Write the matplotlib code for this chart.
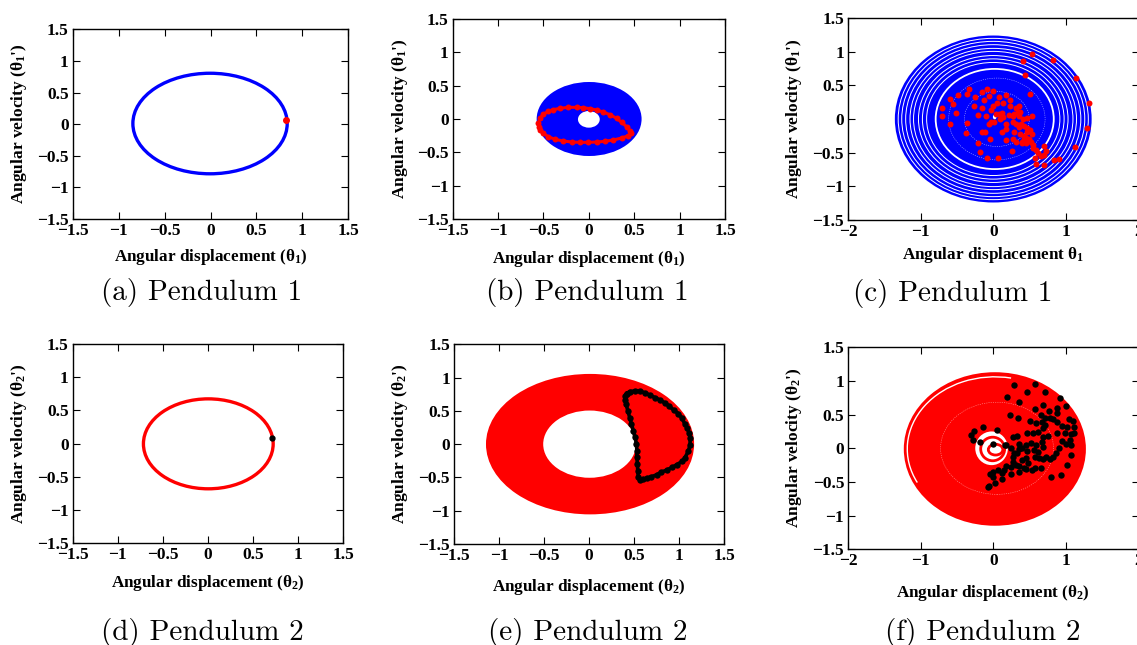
import numpy as np
import matplotlib
matplotlib.use('Agg')
import matplotlib.pyplot as plt
from matplotlib.patches import Ellipse, Arc

plt.rcParams['font.family'] = ['Liberation Serif', 'DejaVu Serif']
plt.rcParams['font.weight'] = 'bold'
plt.rcParams['mathtext.fontset'] = 'custom'
plt.rcParams['mathtext.rm'] = 'Liberation Serif:bold'
plt.rcParams['mathtext.bf'] = 'Liberation Serif:bold'
plt.rcParams['mathtext.it'] = 'Liberation Serif:bold'

# ---------------- data ----------------
tick15 = [-1.5, -1, -0.5, 0, 0.5, 1, 1.5]
tick15_labels = ['\u22121.5', '\u22121', '\u22120.5', '0', '0.5', '1', '1.5']
tick2 = [-2, -1, 0, 1, 2]
tick2_labels = ['\u22122', '\u22121', '0', '1', '2']

# (a) pendulum 1 orbit
a_center = [-0.005, 0.01]
a_semi = [0.84, 0.795]
a_point = [0.82, 0.07]

# (b) pendulum 1 ring + section
b_outer = [0.578, 0.555]
b_inner = [0.12, 0.125]
b_loop_x = [-0.557, -0.539, -0.502, -0.447, -0.392, -0.318, -0.226, -0.135, -0.061, 0.012,
            0.086, 0.159, 0.232, 0.306, 0.361, 0.416, 0.453, 0.46, 0.435, 0.361, 0.269,
            0.177, 0.086, -0.006, -0.098, -0.19, -0.281, -0.373, -0.447, -0.502, -0.539, -0.554]
b_loop_y = [-0.065, 0.01, 0.07, 0.115, 0.14, 0.16, 0.175, 0.175, 0.17, 0.155,
            0.135, 0.105, 0.065, 0.01, -0.05, -0.115, -0.18, -0.215, -0.25, -0.285, -0.315,
            -0.335, -0.345, -0.35, -0.35, -0.345, -0.33, -0.305, -0.265, -0.215, -0.165, -0.115]

# (c) pendulum 1 chaotic
c_outer = [1.355, 1.24]
c_gap_scales = [0.966, 0.93, 0.89, 0.846, 0.81, 0.76, 0.72, 0.677]
c_main_gap = 0.60
c_faint_scales = [0.49, 0.33]
c_pts_x = [0.54, 0.41, 0.82, 0.44, 1.14, 1.32, 1.29, 1.12, 0.90, 0.83, 0.70, 0.59,
           0.51, -0.33, -0.08, 0.0, -0.16, -0.49, -0.36, -0.06, -0.25, 0.08, 0.18,
           -0.59, -0.55, -0.71, -0.71, -0.51, -0.59, -0.13, 0.05, 0.14, 0.23, 0.23,
           -0.27, -0.15, -0.01, -0.03, 0.35, 0.32, 0.37, 0.36, -0.21, -0.10, 0.04,
           0.08, 0.12, 0.09, 0.14, 0.22, 0.27, 0.29, 0.34, 0.47, 0.53, 0.41, 0.27,
           0.31, 0.38, 0.35, 0.42, 0.46, -0.06, -0.03, 0.01, 0.18, -0.36, -0.37,
           -0.16, -0.12, 0.12, 0.18, 0.28, 0.37, 0.43, 0.47, 0.51, 0.53, 0.43, 0.49,
           0.27, 0.31, 0.17, -0.04, -0.21, 0.39, 0.45, 0.52, 0.55, 0.55, 0.59, 0.70,
           0.73, 0.70, 0.61, 0.66, 0.57, -0.18, -0.08, 0.07, 0.26, 0.45, 0.40]
c_pts_y = [0.96, 0.86, 0.88, 0.66, 0.61, 0.24, -0.13, -0.42, -0.59, -0.61, -0.69, -0.67,
           0.37, 0.44, 0.45, 0.42, 0.40, 0.36, 0.37, 0.34, 0.32, 0.33, 0.35,
           0.30, 0.23, 0.17, 0.04, 0.09, -0.08, 0.28, 0.24, 0.24, 0.28, 0.19,
           0.20, 0.17, 0.19, 0.13, 0.20, 0.16, 0.11, 0.04, 0.06, 0.05, 0.08,
           0.07, 0.09, 0.0, 0.03, 0.06, 0.04, 0.07, 0.11, 0.01, 0.04, -0.005, -0.05,
           -0.08, -0.07, -0.12, -0.11, -0.14, -0.07, -0.04, -0.05, -0.08, -0.06, -0.21,
           -0.20, -0.20, -0.20, -0.15, -0.20, -0.23, -0.25, -0.20, -0.17, -0.23, -0.30, -0.30,
           -0.29, -0.34, -0.31, -0.30, -0.36, -0.36, -0.35, -0.34, -0.39, -0.43, -0.46, -0.40,
           -0.47, -0.53, -0.51, -0.55, -0.58, -0.49, -0.58, -0.58, -0.48, -0.28, -0.34]

# (d) pendulum 2 orbit
d_center = [0.005, -0.005]
d_semi = [0.72, 0.678]
d_point = [0.707, 0.088]

# (e) pendulum 2 ring + section
e_center = [0.01, 0.0]
e_outer = [1.155, 1.055]
e_inner = [0.515, 0.505]
e_loop_x = [0.415, 0.45, 0.51, 0.56, 0.62, 0.67, 0.73, 0.79, 0.84, 0.89, 0.94, 0.99, 1.03,
            1.06, 1.09, 1.11, 1.12, 1.12, 1.10, 1.06, 1.03, 0.97, 0.92, 0.86, 0.80, 0.75,
            0.69, 0.64, 0.60, 0.56, 0.545, 0.54, 0.535, 0.53, 0.53, 0.525, 0.51, 0.49,
            0.47, 0.45, 0.43, 0.41, 0.40, 0.40]
e_loop_y = [0.76, 0.79, 0.80, 0.80, 0.77, 0.74, 0.70, 0.66, 0.62, 0.57, 0.51, 0.46, 0.39,
            0.31, 0.24, 0.16, 0.09, -0.01, -0.11, -0.21, -0.26, -0.31, -0.35, -0.39, -0.42, -0.46,
            -0.49, -0.51, -0.53, -0.54, -0.50, -0.40, -0.30, -0.20, -0.10, 0.0, 0.10, 0.20,
            0.30, 0.40, 0.50, 0.60, 0.67, 0.72]

# (f) pendulum 2 chaotic
f_center = [0.02, -0.01]
f_outer = [1.255, 1.14]
f_hole_center = [-0.025, 0.0]
f_hole = [0.225, 0.25]
f_inner_loops = [[-0.01, -0.01, 0.165, 0.175], [0.03, -0.02, 0.10, 0.08]]
f_pts_x = [0.29, 0.57, 0.46, 0.71, 0.19, 0.92, 0.35, 1.00, 0.69, 0.88, 0.57, 0.76, 0.23,
           0.88, 0.34, 0.65, 0.71, 0.78, 0.82, 1.04, 1.10, 0.51, 0.59, 0.67, 0.71, 0.88,
           0.95, 1.02, 1.07, 1.11, 0.99, 0.88, 0.69, 0.62, 0.55, 0.47, 0.75, 0.67, 0.52,
           0.45, 0.32, 0.27, 0.24, 0.17, 0.05, -0.14, -0.27, -0.31, -0.28, -0.18, -0.01,
           0.95, 1.05, 1.00, 1.07, 0.91, 0.86, 0.82, 0.78, 0.73, 0.69, 0.63, 0.58, 0.61,
           0.56, 0.47, 0.40, 0.35, 0.33, 0.45, 0.39, 0.48, 0.42, 0.35, 0.31, 0.27, 0.24,
           0.18, 0.15, 0.12, 0.06, -0.01, -0.05, -0.01, 0.12, 0.02, -0.06, -0.08, 0.93,
           0.80, 1.02, 1.07, 0.65, 0.57, 0.53, 0.45, 0.35, 0.24, 0.27, 0.29, 0.35, 0.69,
           0.59, 0.69, 1.11, 0.16]
f_pts_y = [0.94, 0.96, 0.84, 0.83, 0.76, 0.74, 0.69, 0.63, 0.65, 0.60, 0.58, 0.56, 0.50,
           0.52, 0.45, 0.50, 0.45, 0.45, 0.43, 0.43, 0.41, 0.41, 0.37, 0.39, 0.35, 0.39,
           0.33, 0.31, 0.21, 0.22, 0.22, 0.23, 0.30, 0.24, 0.23, 0.23, 0.18, 0.10, 0.08,
           0.05, 0.18, 0.17, 0.01, 0.05, 0.27, 0.31, 0.26, 0.20, 0.12, 0.10, 0.07,
           0.11, 0.12, 0.07, 0.05, 0.01, -0.07, -0.13, -0.16, -0.13, -0.16, -0.15, -0.13, -0.06,
           -0.02, -0.04, 0.0, -0.01, -0.07, -0.15, -0.17, -0.22, -0.29, -0.27, -0.25, -0.21, -0.28,
           -0.26, -0.32, -0.37, -0.32, -0.35, -0.38, -0.42, -0.46, -0.52, -0.56, -0.58, -0.40,
           -0.42, -0.25, -0.10, -0.30, -0.30, -0.32, -0.31, -0.35, -0.38, -0.13, -0.07, 0.06, 0.02,
           0.05, 0.17, 0.32, 0.05]

captions = ['(a) Pendulum 1', '(b) Pendulum 1', '(c) Pendulum 1',
            '(d) Pendulum 2', '(e) Pendulum 2', '(f) Pendulum 2']

# ---------------- layout ----------------
W, H = 1137, 645
fig = plt.figure(figsize=(W / 100, H / 100), dpi=100)

def px_axes(left, top, right, bottom):
    return fig.add_axes([left / W, 1 - bottom / H, (right - left) / W, (bottom - top) / H])

axa = px_axes(72.7, 29.3, 348.3, 219)
axb = px_axes(452.7, 19, 725, 219)
axc = px_axes(848, 18, 1138.5, 220)
axd = px_axes(72.7, 344, 343, 543)
axe = px_axes(454, 344.3, 724.3, 544)
axf = px_axes(848.3, 347.3, 1138.5, 549.3)

BLUE = (0, 0, 1)
RED = (1, 0, 0)

for ax, wide in [(axa, False), (axb, False), (axc, True), (axd, False), (axe, False), (axf, True)]:
    if wide:
        ax.set_xlim(-2, 2)
        ax.set_xticks(tick2, tick2_labels)
    else:
        ax.set_xlim(-1.5, 1.5)
        ax.set_xticks(tick15, tick15_labels)
    ax.set_ylim(-1.5, 1.5)
    ax.set_yticks(tick15, tick15_labels)
    ax.tick_params(direction='in', top=True, right=True, length=5, width=0.8,
                   labelsize=12.5, pad=3)
    for s in ax.spines.values():
        s.set_linewidth(1.0)

# (a)
axa.add_patch(Ellipse(a_center, 2 * a_semi[0], 2 * a_semi[1], fill=False, edgecolor=BLUE, lw=2.4))
axa.plot([a_point[0]], [a_point[1]], 'o', color=RED, ms=4)

# (b)
axb.add_patch(Ellipse((0.003, 0.0), 2 * b_outer[0], 2 * b_outer[1], facecolor=BLUE, lw=0))
axb.add_patch(Ellipse((0.0, -0.005), 2 * b_inner[0], 2 * b_inner[1], facecolor='white', lw=0))
bx = b_loop_x + b_loop_x[:1]
by = b_loop_y + b_loop_y[:1]
axb.plot(bx, by, '-', color=RED, lw=2.2)
axb.plot(b_loop_x, b_loop_y, 'o', color=RED, ms=4.3, mec='none')

# (c)
axc.add_patch(Ellipse((0.0, 0.0), 2 * c_outer[0], 2 * c_outer[1], facecolor=BLUE, lw=0))
for s in c_gap_scales:
    axc.add_patch(Ellipse((0.0, 0.0), 2 * c_outer[0] * s, 2 * c_outer[1] * s,
                          fill=False, edgecolor='white', lw=0.7))
axc.add_patch(Ellipse((0.02, 0.0), 2 * c_outer[0] * c_main_gap, 2 * c_outer[1] * c_main_gap,
                      fill=False, edgecolor='white', lw=1.3))
for s in c_faint_scales:
    axc.add_patch(Ellipse((0.05, 0.0), 2 * c_outer[0] * s, 2 * c_outer[1] * s,
                          fill=False, edgecolor='white', lw=0.4, alpha=0.7, ls=(0, (2, 2))))
axc.add_patch(Ellipse((0.02, 0.03), 0.05, 0.07, facecolor='white', lw=0))
axc.plot(c_pts_x, c_pts_y, 'o', color=RED, ms=4.3, mec='none')

# (d)
axd.add_patch(Ellipse(d_center, 2 * d_semi[0], 2 * d_semi[1], fill=False, edgecolor=RED, lw=2.4))
axd.plot([d_point[0]], [d_point[1]], 'o', color='black', ms=3.5)

# (e)
axe.add_patch(Ellipse(e_center, 2 * e_outer[0], 2 * e_outer[1], facecolor=RED, lw=0))
axe.add_patch(Ellipse((0.005, 0.0), 2 * e_inner[0], 2 * e_inner[1], facecolor='white', lw=0))
ex = e_loop_x + e_loop_x[:1]
ey = e_loop_y + e_loop_y[:1]
axe.plot(ex, ey, '-', color='black', lw=2.6)
axe.plot(e_loop_x, e_loop_y, 'o', color='black', ms=4.6, mec='none')

# (f)
axf.add_patch(Ellipse(f_center, 2 * f_outer[0], 2 * f_outer[1], facecolor=RED, lw=0))
axf.add_patch(Arc(f_center, 2 * f_outer[0] * 0.962, 2 * f_outer[1] * 0.94,
                  theta1=78, theta2=205, edgecolor='white', lw=1.0))
axf.add_patch(Ellipse((0.05, 0.0), 2 * f_outer[0] * 0.62, 2 * f_outer[1] * 0.6,
                      fill=False, edgecolor='white', lw=0.4, alpha=0.6, ls=(0, (2, 2))))
axf.add_patch(Ellipse(f_hole_center, 2 * f_hole[0], 2 * f_hole[1], facecolor='white', lw=0))
for cx, cy, sa, sb in f_inner_loops:
    axf.add_patch(Ellipse((cx, cy), 2 * sa, 2 * sb, fill=False, edgecolor=RED, lw=2.0))
axf.plot(f_pts_x, f_pts_y, 'o', color='black', ms=4.6, mec='none')

# ---------------- labels ----------------
def ftext(x, y, s, **kw):
    fig.text(x / W, 1 - y / H, s, **kw)

xl = dict(ha='center', va='baseline', fontsize=12.3, fontweight='bold')
ftext(210.5, 260.7, 'Angular displacement (\u03b8$_\\mathbf{1}$)', **xl)
ftext(589, 263.3, 'Angular displacement (\u03b8$_\\mathbf{1}$)', **xl)
ftext(993, 259.3, 'Angular displacement \u03b8$_\\mathbf{1}$', **xl)
ftext(208, 587.3, 'Angular displacement (\u03b8$_\\mathbf{2}$)', **xl)
ftext(589, 590.7, 'Angular displacement (\u03b8$_\\mathbf{2}$)', **xl)
ftext(993, 596.7, 'Angular displacement (\u03b8$_\\mathbf{2}$)', **xl)

yl = dict(ha='center', va='center', rotation=90, fontsize=12.5, fontweight='bold')
ftext(19, 124, "Angular velocity (\u03b8$_\\mathbf{1}$')", **yl)
ftext(400, 119, "Angular velocity (\u03b8$_\\mathbf{1}$')", **yl)
ftext(794, 119, "Angular velocity (\u03b8$_\\mathbf{1}$')", **yl)
ftext(19, 443.5, "Angular velocity (\u03b8$_\\mathbf{2}$')", **yl)
ftext(400, 444, "Angular velocity (\u03b8$_\\mathbf{2}$')", **yl)
ftext(794, 448, "Angular velocity (\u03b8$_\\mathbf{2}$')", **yl)

cap = dict(ha='center', va='baseline', fontsize=21, family='cmr10', fontweight='normal')
cap_pos = [(202, 300), (587, 300), (953, 301), (202, 640), (588, 640), (983, 640)]
for (cx, cy), s in zip(cap_pos, captions):
    ftext(cx, cy, s, **cap)

fig.savefig('out.png', dpi=100)
